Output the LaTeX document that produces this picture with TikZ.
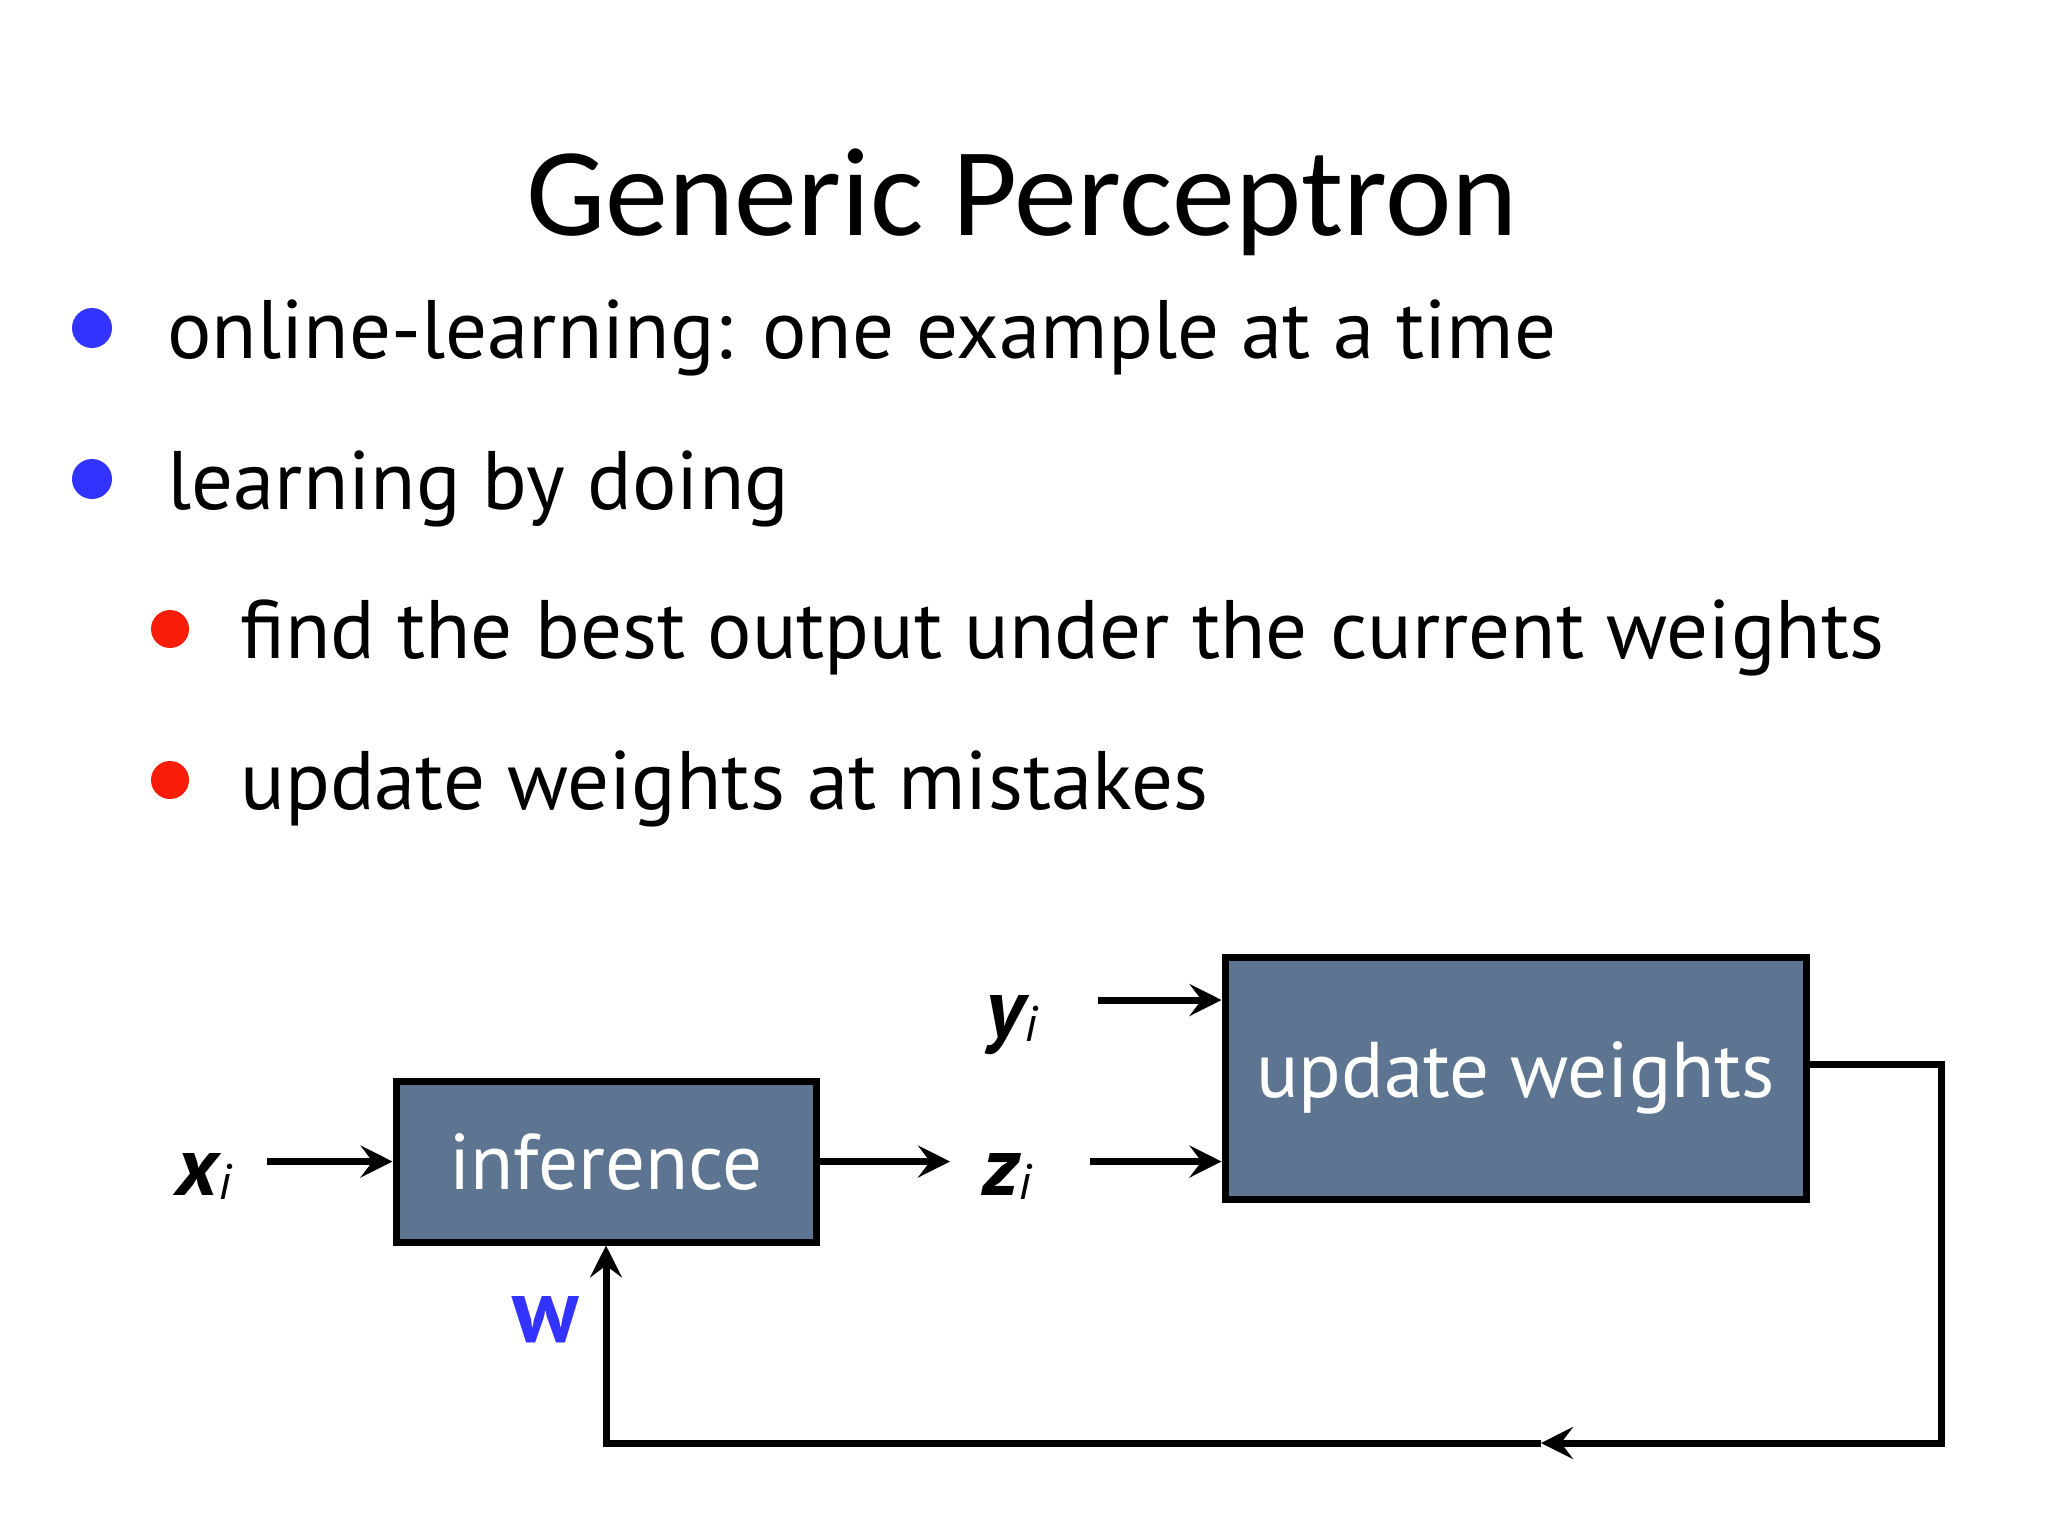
\documentclass[tikz,border=0pt]{standalone}
\usepackage{fontspec}
\setmainfont{PT Sans}
\newfontfamily\titlefont{Carlito}
\usetikzlibrary{arrows.meta}
\definecolor{boxfill}{RGB}{94,117,145}
\definecolor{bulblue}{RGB}{51,51,255}
\definecolor{bulred}{RGB}{250,30,10}
\newcommand{\subi}{\raisebox{-2pt}{\fontsize{25}{28}\selectfont\mdseries\itshape i}}
\begin{document}
\begin{tikzpicture}[x=0.5pt,y=-0.5pt,
  bultext/.style={anchor=base west, inner sep=0pt, font=\fontsize{41.5}{48}\selectfont},
  blockbox/.style={draw=black, line width=3.5pt, fill=boxfill, text=white, inner sep=0pt,
     font=\fontsize{39.5}{46}\selectfont},
  varlabel/.style={anchor=base west, inner sep=0pt, font=\fontsize{42}{48}\selectfont\bfseries\itshape},
  wire/.style={line width=3.5pt},
  arr/.style={wire, -{Stealth[length=16pt,width=16pt,inset=6pt]}}]
\useasboundingbox (0,0) rectangle (2048,1536);
\fill[white] (0,0) rectangle (2048,1536);
% title
\node[anchor=base, inner sep=0pt, font=\titlefont\fontsize{63}{70}\selectfont] (title) at (1022,235) {Generic Perceptron};
% bullets
\fill[bulblue] (92,328) circle (10pt);
\node[bultext] (b1) at (167,358) {online-learning: one example at a time};
\fill[bulblue] (92,479) circle (10pt);
\node[bultext] (b2) at (167,509) {learning by doing};
\fill[bulred] (170,629) circle (9.5pt);
\node[bultext] (b3) at (240,658) {find the best output under the current weights};
\fill[bulred] (170,780) circle (9.5pt);
\node[bultext] (b4) at (240,809) {update weights at mistakes};
% diagram
\node[blockbox, minimum width=210pt, minimum height=80.5pt] (inf) at (606,1161.5) {inference};
\node[blockbox, minimum width=290.5pt, minimum height=121pt] (upd) at (1515.5,1078) {\raisebox{-4.5pt}{update weights}};
\node[varlabel] (xi) at (176,1195) {x\subi};
\node[varlabel] (zi) at (982,1195) {z\subi};
\node[varlabel] (yi) at (986,1037) {y\subi};
\node[inner sep=0pt, text=bulblue, font=\fontsize{46}{50}\selectfont\bfseries] (w) at (546,1320) {w};
\draw[arr] (xi.east |- inf.west) ++(18pt,0) -- (inf.west);
\draw[arr, shorten >=16pt] (inf.east) -- (zi.west |- inf.east);
\coordinate (yiin) at (upd.west |- 0,1000);
\draw[arr] (yi.east |- yiin) ++(30pt,0) -- (yiin);
\draw[arr] (zi.east |- inf.east) ++(29pt,0) -- (upd.west |- inf.east);
% feedback loop
\coordinate (outp) at ([yshift=7pt]upd.east);
\coordinate (corner) at (1941,1443);
\coordinate (mid) at (1541,1443);
\draw[arr] (outp) -| (corner) -- (mid);
\draw[arr] (mid) -| (inf.south);
\end{tikzpicture}
\end{document}
